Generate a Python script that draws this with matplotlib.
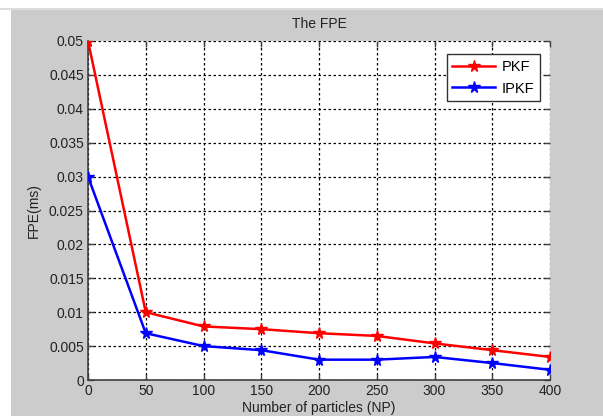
import numpy as np
import matplotlib.pyplot as plt
from matplotlib.patches import Rectangle

np_counts = [0, 50, 100, 150, 200, 250, 300, 350, 400]
pkf = [0.05, 0.01, 0.0079, 0.0075, 0.0069, 0.0065, 0.0054, 0.0044, 0.0034]
ipkf = [0.03, 0.0069, 0.005, 0.0044, 0.003, 0.003, 0.0034, 0.0025, 0.0015]
x_ticks = [0, 50, 100, 150, 200, 250, 300, 350, 400]
y_ticks = [0, 0.005, 0.01, 0.015, 0.02, 0.025, 0.03, 0.035, 0.04, 0.045, 0.05]
y_labels = ["0", "0.005", "0.01", "0.015", "0.02", "0.025", "0.03", "0.035", "0.04", "0.045", "0.05"]

plt.rcParams['font.family'] = ['Liberation Sans', 'DejaVu Sans']

W, H = 603, 416
fig = plt.figure(figsize=(W / 100, H / 100), dpi=100)
fig.patch.set_facecolor('white')

# gray window background below the thin white strip at the top-left
fig.patches.append(Rectangle((11 / W, 0), 1, 1 - 10 / H, transform=fig.transFigure,
                             facecolor='#cccccc', edgecolor='none', zorder=-10))
fig.patches.append(Rectangle((0, 1 - 10 / H), 1, 1.5 / H, transform=fig.transFigure,
                             facecolor='#dddddd', edgecolor='none', zorder=-9))

left, right, top, bottom = 88, 550, 41, 380
ax = fig.add_axes([left / W, 1 - bottom / H, (right - left) / W, (bottom - top) / H])
ax.set_facecolor('white')

ax.plot(np_counts, pkf, color='red', lw=1.8, marker='*', ms=8.5, label='PKF', zorder=3)
ax.plot(np_counts, ipkf, color='blue', lw=1.8, marker='*', ms=8.5, label='IPKF', zorder=3)

ax.set_xlim(0, 400)
ax.set_ylim(0, 0.05)
ax.set_xticks(x_ticks)
ax.set_yticks(y_ticks)
ax.set_yticklabels(y_labels)
ax.grid(True, color='black', linestyle=(0, (2, 2)), linewidth=0.9)
ax.set_axisbelow(True)

for s in ['top', 'right']:
    ax.spines[s].set_visible(False)
for s in ['left', 'bottom']:
    ax.spines[s].set_color('#404040')
    ax.spines[s].set_linewidth(1.2)
ax.tick_params(direction='in', length=4, width=1, color='#404040',
               top=True, right=True, labelsize=10, labelcolor='#222222', pad=3)

ax.set_title('The FPE', fontsize=10, color='#222222', pad=9)
ax.set_xlabel('Number of particles (NP)', fontsize=10, color='#222222', labelpad=2)
ax.set_ylabel('FPE(ms)', fontsize=10, color='#222222', labelpad=6)

leg = ax.legend(loc='upper right', bbox_to_anchor=(0.995, 0.982), fontsize=10.5,
                fancybox=False, framealpha=1, edgecolor='#333333',
                handlelength=2.9, borderpad=0.4, labelspacing=0.5, handletextpad=0.5)
leg.get_frame().set_linewidth(1.0)

fig.savefig('out.png', dpi=100)
